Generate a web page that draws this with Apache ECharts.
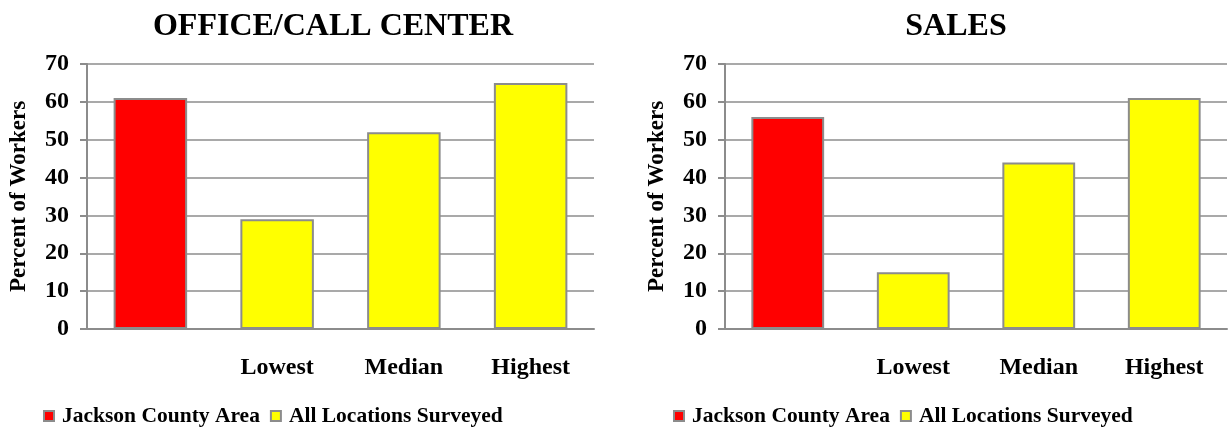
<!DOCTYPE html>
<html><head><meta charset="utf-8">
<script src="https://cdn.jsdelivr.net/npm/echarts@6/dist/echarts.min.js"></script>
<style>html,body{margin:0;padding:0;background:#fff}#c{width:1228px;height:427px}</style>
</head><body><div id="c"></div>
<script>
const categories = ['', 'Lowest', 'Median', 'Highest'];
const officeJackson = [61, null, null, null];
const officeAll = [null, 29, 52, 65];
const salesJackson = [56, null, null, null];
const salesAll = [null, 15, 44, 61];
const yTicks = {min: 0, max: 70, interval: 10};
const titles = ['OFFICE/CALL CENTER', 'SALES'];
const seriesNames = ['Jackson County Area', 'All Locations Surveyed'];

const FONT = '"Liberation Serif","Times New Roman",serif';
const GRAY = '#8c8c8c';
const grids = [
  {left: 87, right: 634, top: 64, bottom: 98},
  {left: 725, right: 1, top: 64, bottom: 98}
];
function xAxis(i){return {type:'category', gridIndex:i, data:categories,
  axisLine:{lineStyle:{color:GRAY,width:2}}, axisTick:{show:false},
  axisLabel:{color:'#000',fontFamily:FONT,fontWeight:'bold',fontSize:24,margin:27}};}
function yAxis(i){return {type:'value', gridIndex:i, min:yTicks.min, max:yTicks.max, interval:yTicks.interval,
  name:'Percent of Workers', nameLocation:'middle', nameGap:56,
  nameTextStyle:{color:'#000',fontFamily:FONT,fontWeight:'bold',fontSize:23},
  axisLine:{show:true,lineStyle:{color:GRAY,width:2}}, axisTick:{show:true,length:7,lineStyle:{color:GRAY,width:2}},
  splitLine:{lineStyle:{color:GRAY,width:1.5}},
  axisLabel:{color:'#000',fontFamily:FONT,fontWeight:'bold',fontSize:24,margin:18}};}
function bar(name, data, color, i){return {type:'bar', name, data, xAxisIndex:i, yAxisIndex:i,
  barWidth:'58%', barGap:'-100%', itemStyle:{color, borderColor:GRAY, borderWidth:2}};}
const legendCommon = {itemWidth:10,itemHeight:10,itemGap:10,icon:'rect',padding:5,
  itemStyle:{borderColor:GRAY,borderWidth:2},
  textStyle:{color:'#000',fontFamily:FONT,fontWeight:'bold',fontSize:21.5,padding:[0,0,0,3]}};
const chart = echarts.init(document.getElementById('c'));
chart.setOption({
  animation:false,
  title:[
    {text:titles[0],left:328,top:22,textAlign:'center',textVerticalAlign:'middle',textStyle:{fontFamily:FONT,fontWeight:'bold',fontSize:32,color:'#000'}},
    {text:titles[1],left:951,top:22,textAlign:'center',textVerticalAlign:'middle',textStyle:{fontFamily:FONT,fontWeight:'bold',fontSize:32,color:'#000'}}
  ],
  legend:[
    Object.assign({left:38,top:400,data:seriesNames}, legendCommon),
    Object.assign({left:668,top:400,data:seriesNames.map(n=>n)}, legendCommon)
  ],
  grid:grids,
  xAxis:[xAxis(0),xAxis(1)],
  yAxis:[yAxis(0),yAxis(1)],
  series:[
    bar(seriesNames[0], officeJackson, '#ff0000', 0),
    bar(seriesNames[1], officeAll, '#ffff00', 0),
    bar(seriesNames[0], salesJackson, '#ff0000', 1),
    bar(seriesNames[1], salesAll, '#ffff00', 1)
  ]
});
</script></body></html>
